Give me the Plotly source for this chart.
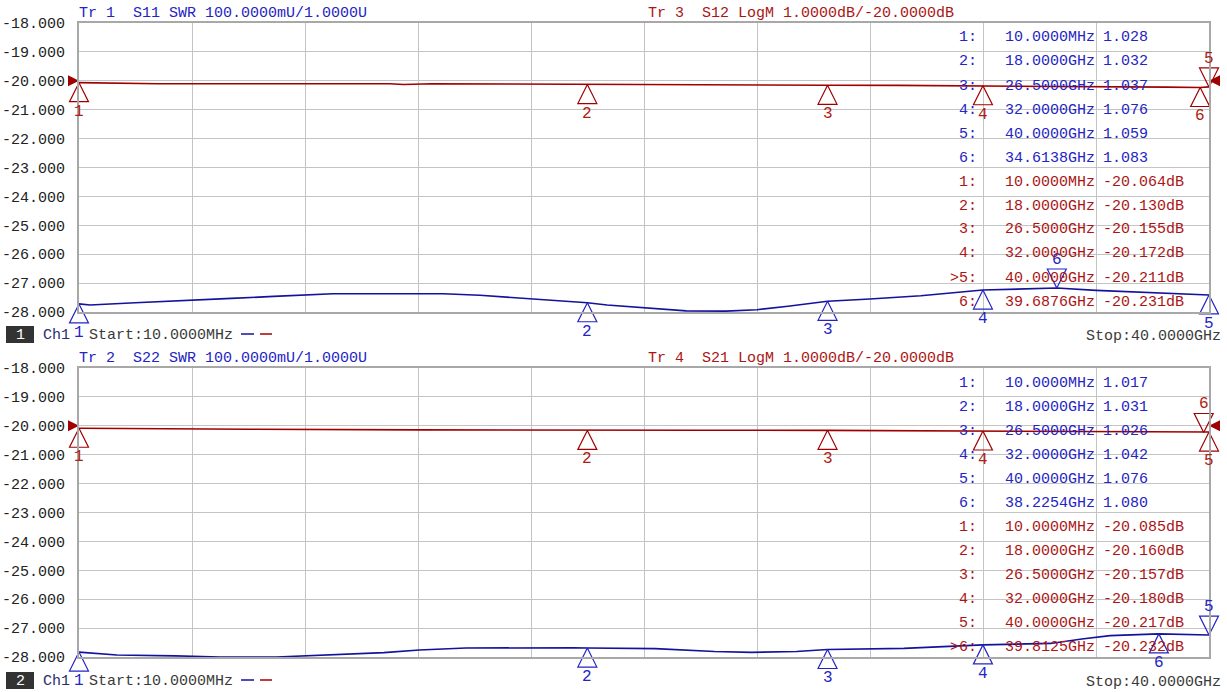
import plotly.graph_objects as go

# ---------------- data ----------------
# Trace 1 (S11 SWR, upper panel, blue), frequency in GHz
s11_f = [0.01, 0.4, 2.0, 3.8, 5.4, 6.9, 8.0, 9.0, 11.0, 12.9, 14.2, 16.0, 16.9, 18.0, 18.7,
         20.0, 21.5, 22.9, 24.0, 25.1, 26.5, 28.0, 29.8, 32.0, 33.1, 34.6138, 36.0, 38.0, 40.0]
s11_v = [1.028, 1.024, 1.032, 1.039, 1.047, 1.054, 1.060, 1.063, 1.063, 1.063, 1.058, 1.045, 1.038, 1.032, 1.024,
         1.015, 1.004, 1.003, 1.008, 1.020, 1.037, 1.045, 1.056, 1.076, 1.080, 1.083, 1.075, 1.066, 1.059]

# Trace 3 (S12 LogM, upper panel, red)
s12_f = [0.01, 1.5, 2.8, 11.0, 11.5, 12.5, 18.0, 22.0, 26.5, 29.0, 32.0, 35.0, 37.5, 38.5, 39.6876, 40.0]
s12_v = [-20.064, -20.07, -20.10, -20.10, -20.13, -20.10, -20.130, -20.14, -20.155, -20.16, -20.172,
         -20.19, -20.20, -20.22, -20.231, -20.211]

# Trace 2 (S22 SWR, lower panel, blue)
s22_f = [0.01, 1.35, 3.4, 5.0, 7.0, 8.8, 10.8, 12.05, 13.7, 17.5, 18.0, 20.4, 22.5, 23.8, 25.4, 26.5,
         29.2, 32.0, 33.0, 34.4, 35.5, 36.5, 38.2254, 40.0]
s22_v = [1.017, 1.007, 1.004, 1.000, 1.000, 1.006, 1.015, 1.024, 1.031, 1.032, 1.031, 1.029, 1.019, 1.016, 1.019, 1.026,
         1.030, 1.042, 1.043, 1.047, 1.062, 1.074, 1.080, 1.076]

# Trace 4 (S21 LogM, lower panel, red)
s21_f = [0.01, 2.0, 6.0, 12.0, 18.0, 22.0, 26.5, 29.0, 32.0, 35.0, 37.0, 39.8125, 40.0]
s21_v = [-20.085, -20.10, -20.12, -20.14, -20.160, -20.155, -20.157, -20.17, -20.180, -20.195, -20.205,
         -20.232, -20.217]

# Markers (freq GHz, value, pointing down?)
m_s11_f = [0.01, 18.0, 26.5, 32.0, 40.0, 34.6138]
m_s11_v = [1.028, 1.032, 1.037, 1.076, 1.059, 1.083]
m_s11_dn = [False, False, False, False, False, True]

m_s12_f = [0.01, 18.0, 26.5, 32.0, 40.0, 39.6876]
m_s12_v = [-20.064, -20.130, -20.155, -20.172, -20.211, -20.231]
m_s12_dn = [False, False, False, False, True, False]

m_s22_f = [0.01, 18.0, 26.5, 32.0, 40.0, 38.2254]
m_s22_v = [1.017, 1.031, 1.026, 1.042, 1.076, 1.080]
m_s22_dn = [False, False, False, False, True, False]

m_s21_f = [0.01, 18.0, 26.5, 32.0, 40.0, 39.8125]
m_s21_v = [-20.085, -20.160, -20.157, -20.180, -20.217, -20.232]
m_s21_dn = [False, False, False, False, False, True]

active_s12 = 5
active_s21 = 6

y_ticks = [-18, -19, -20, -21, -22, -23, -24, -25, -26, -27, -28]
y_tick_text = [f"{v:.3f}" for v in y_ticks]
ref_level = -20.0
f_start, f_stop = 0.01, 40.0

hdr_top_l = "Tr 1  S11 SWR 100.0000mU/1.0000U"
hdr_top_r = "Tr 3  S12 LogM 1.0000dB/-20.0000dB"
hdr_bot_l = "Tr 2  S22 SWR 100.0000mU/1.0000U"
hdr_bot_r = "Tr 4  S21 LogM 1.0000dB/-20.0000dB"
start_txt = "Start:10.0000MHz"
stop_txt = "Stop:40.0000GHz"

# ---------------- style ----------------
W, H = 1227, 692
L, R, T, B = 79, 18, 23, 35
PW = W - L - R
PH = H - T - B
FONT = "Liberation Mono"
BLUE_T = "#2424c4"
BLUE_L = "#12129c"
RED_T = "#ac1414"
RED_L = "#a00000"
GRID = "#c4c4c4"
FRAME = "#a8a8a8"


def px(x):
    return (x - L) / PW


def py(y):
    return (H - B - y) / PH


fig = go.Figure()

# traces
fig.add_trace(go.Scatter(x=s12_f, y=s12_v, xaxis="x", yaxis="y", mode="lines",
                         line=dict(color=RED_L, width=1.6)))
fig.add_trace(go.Scatter(x=s11_f, y=s11_v, xaxis="x", yaxis="y3", mode="lines",
                         line=dict(color=BLUE_L, width=1.6)))
fig.add_trace(go.Scatter(x=s21_f, y=s21_v, xaxis="x2", yaxis="y2", mode="lines",
                         line=dict(color=RED_L, width=1.6)))
fig.add_trace(go.Scatter(x=s22_f, y=s22_v, xaxis="x2", yaxis="y4", mode="lines",
                         line=dict(color=BLUE_L, width=1.6)))

annotations = []


def add_markers(fs, vs, dns, xa, ya, col, lab_col):
    syms = ["arrow-down-open" if d else "arrow-up-open" for d in dns]
    fig.add_trace(go.Scatter(x=fs, y=vs, xaxis=xa, yaxis=ya, mode="markers", cliponaxis=False,
                             marker=dict(symbol=syms, size=19, color=col, line=dict(color=col, width=1.2))))
    for i, (f, v, d) in enumerate(zip(fs, vs, dns)):
        annotations.append(dict(x=f, y=v, xref=xa, yref=ya, text=str(i + 1), showarrow=False,
                                yshift=28 if d else -29, font=dict(family=FONT, size=16, color=lab_col)))


add_markers(m_s12_f, m_s12_v, m_s12_dn, "x", "y", RED_L, "#b02010")
add_markers(m_s11_f, m_s11_v, m_s11_dn, "x", "y3", BLUE_T, BLUE_T)
add_markers(m_s21_f, m_s21_v, m_s21_dn, "x2", "y2", RED_L, "#b02010")
add_markers(m_s22_f, m_s22_v, m_s22_dn, "x2", "y4", BLUE_T, BLUE_T)

# reference level indicators
for xa, ya in (("x", "y"), ("x2", "y2")):
    fig.add_trace(go.Scatter(x=[f_start, f_stop], y=[ref_level, ref_level], xaxis=xa, yaxis=ya,
                             mode="markers", cliponaxis=False,
                             marker=dict(symbol=["arrow-right", "arrow-left"], size=11, color=RED_L,
                                         line=dict(width=0))))


def txt(x, y, s, col, anchor="left", size=15):
    annotations.append(dict(x=px(x), y=py(y), xref="paper", yref="paper", text=s, showarrow=False,
                            xanchor=anchor, yanchor="middle", font=dict(family=FONT, size=size, color=col)))


def fmt_f(f):
    return f"{f * 1000:.4f}MHz" if f < 1 else f"{f:.4f}GHz"


def table(y0, swr_f, swr_v, db_f, db_v, active):
    rows = []
    for i, (f, v) in enumerate(zip(swr_f, swr_v)):
        rows.append((f"{i + 1}:", fmt_f(f), f"{v:.3f}", BLUE_T))
    for i, (f, v) in enumerate(zip(db_f, db_v)):
        idx = f">{i + 1}:" if i + 1 == active else f"{i + 1}:"
        rows.append((idx, fmt_f(f), f"{v:.3f}dB", RED_T))
    for k, (a, b, c, col) in enumerate(rows):
        y = y0 + 24 * k
        txt(979, y, a, col, "right")
        txt(1097, y, b, col, "right")
        txt(1101, y, c, col, "left")


table(38, m_s11_f, m_s11_v, m_s12_f, m_s12_v, active_s12)
table(383, m_s22_f, m_s22_v, m_s21_f, m_s21_v, active_s21)

# headers
txt(77, 13, hdr_top_l, BLUE_T)
txt(646, 13, hdr_top_r, RED_T)
txt(77, 358, hdr_bot_l, BLUE_T)
txt(646, 358, hdr_bot_r, RED_T)

shapes = []
# status lines
for yb, num in ((335, "1"), (681, "2")):
    shapes.append(dict(type="rect", xref="paper", yref="paper", x0=px(6), x1=px(34),
                       y0=py(yb + 8), y1=py(yb - 9), fillcolor="#333333", line=dict(width=0)))
    txt(20, yb, num, "white", "center")
    txt(41, yb, "Ch1", "#2c2c6c")
    txt(87, yb, start_txt, "#3a3a3a")
    shapes.append(dict(type="line", xref="paper", yref="paper", x0=px(241), x1=px(254),
                       y0=py(yb - 1), y1=py(yb - 1), line=dict(color=BLUE_L, width=1.5)))
    shapes.append(dict(type="line", xref="paper", yref="paper", x0=px(260), x1=px(272),
                       y0=py(yb - 1), y1=py(yb - 1), line=dict(color=RED_L, width=1.5)))
    txt(1223, yb + 1, stop_txt, "#3a3a3a", "right")

xcommon = dict(range=[f_start, f_stop], tick0=f_start, dtick=(f_stop - f_start) / 10, showgrid=True,
               gridcolor=GRID, gridwidth=1, showticklabels=False, ticks="", zeroline=False,
               showline=True, mirror=True, linecolor=FRAME, linewidth=2, domain=[0, 1], automargin=False)
ycommon = dict(range=[-28, -18], tickvals=y_ticks, ticktext=y_tick_text, showgrid=True, gridcolor=GRID,
               gridwidth=1, ticks="", zeroline=False, showline=True, mirror=True, linecolor=FRAME,
               linewidth=2, ticklabelstandoff=9, automargin=False,
               tickfont=dict(family=FONT, size=15, color="#222222"))

fig.update_layout(
    width=W, height=H, margin=dict(l=L, r=R, t=T, b=B, autoexpand=False),
    paper_bgcolor="white", plot_bgcolor="white", showlegend=False,
    xaxis=dict(anchor="y", **xcommon),
    xaxis2=dict(anchor="y2", **xcommon),
    yaxis=dict(anchor="x", domain=[py(312), 1.0], **ycommon),
    yaxis2=dict(anchor="x2", domain=[0.0, py(368)], **ycommon),
    yaxis3=dict(overlaying="y", anchor="x", range=[1.0, 2.0], visible=False),
    yaxis4=dict(overlaying="y2", anchor="x2", range=[1.0, 2.0], visible=False),
    annotations=annotations, shapes=shapes,
)

fig.write_html("out.html", config={"displayModeBar": False},
               post_script="document.body.style.margin='0';")
